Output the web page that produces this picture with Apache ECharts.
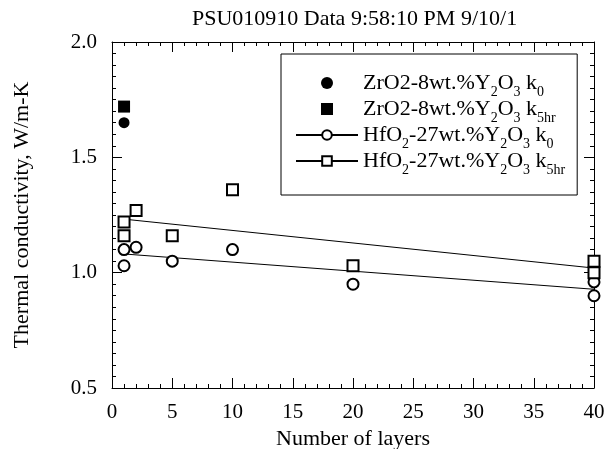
<!DOCTYPE html>
<html>
<head>
<meta charset="utf-8">
<script src="https://cdn.jsdelivr.net/npm/echarts@6/dist/echarts.min.js"></script>
<style>
  html, body { margin: 0; padding: 0; background: #fff; }
  #chart { width: 607px; height: 449px; }
</style>
</head>
<body>
<div id="chart"></div>
<script>
// number of layers for each measured sample
const zrLayers = [1]
const zrK0 = [1.65]
const zrK5hr = [1.72]

const hfLayers = [1, 1, 2, 5, 10, 20, 40, 40]
const hfK0 = [1.10, 1.03, 1.11, 1.05, 1.10, 0.95, 0.96, 0.90]
const hfK5hr = [1.22, 1.16, 1.27, 1.16, 1.36, 1.03, 1.05, 1.00]

// straight fit lines (end points)
const fitLayers = [1, 40]
const fitK0 = [1.081, 0.928]
const fitK5hr = [1.232, 1.020]

const FONT = 'Liberation Serif'

const pairs = (xs, ys) => xs.map((x, i) => [x, ys[i]])

// legend labels with sub-scripts
const legendText = {
  'ZrO2 k0': '{m|ZrO2-8wt.%Y}{s|2}{m|O}{s|3}{m| k}{s|0}',
  'ZrO2 k5hr': '{m|ZrO2-8wt.%Y}{s|2}{m|O}{s|3}{m| k}{s|5hr}',
  'HfO2 k0': '{m|HfO}{s|2}{m|-27wt.%Y}{s|2}{m|O}{s|3}{m| k}{s|0}',
  'HfO2 k5hr': '{m|HfO}{s|2}{m|-27wt.%Y}{s|2}{m|O}{s|3}{m| k}{s|5hr}'
}

const chart = echarts.init(document.getElementById('chart'))

const axisBase = {
  type: 'value',
  axisLine: { show: true, onZero: false, lineStyle: { color: '#000', width: 1 } },
  axisTick: { show: true, inside: true, length: 10, lineStyle: { color: '#000' } },
  minorTick: { show: true, length: 4, lineStyle: { color: '#000' } },
  splitLine: { show: false },
  minorSplitLine: { show: false }
}

const xBase = Object.assign({}, axisBase, { min: 0, max: 40, interval: 5 })
xBase.minorTick = Object.assign({}, axisBase.minorTick, { splitNumber: 5 })
const yBase = Object.assign({}, axisBase, { min: 0.5, max: 2.0, interval: 0.5 })
yBase.minorTick = Object.assign({}, axisBase.minorTick, { splitNumber: 10 })

const option = {
  animation: false,
  backgroundColor: '#fff',
  title: {
    text: 'PSU010910 Data 9:58:10 PM 9/10/1',
    left: 192,
    top: 8,
    padding: 0,
    textStyle: { fontFamily: FONT, fontSize: 22, fontWeight: 'normal', color: '#000' }
  },
  grid: {
    left: 112,
    right: 13,
    top: 42,
    bottom: 61,
    containLabel: false,
    outerBoundsMode: 'none'
  },
  legend: {
    orient: 'vertical',
    left: 281,
    top: 54,
    padding: [18, 12, 18, 14],
    itemGap: -1,
    itemWidth: 62,
    itemHeight: 12,
    borderColor: '#000',
    borderWidth: 1,
    selectedMode: false,
    data: [
      'ZrO2 k0',
      { name: 'ZrO2 k5hr', icon: 'path://M0 0H10V10H0Z' },
      'HfO2 k0',
      'HfO2 k5hr'
    ],
    formatter: name => legendText[name],
    textStyle: {
      fontFamily: FONT,
      fontSize: 22,
      color: '#000',
      rich: {
        m: { fontFamily: FONT, fontSize: 22, lineHeight: 24, color: '#000' },
        // shift sub-scripts down without changing the row height
        s: { fontFamily: FONT, fontSize: 14, padding: [9, 0, -9, 0], color: '#000' }
      }
    }
  },
  xAxis: [
    Object.assign({}, xBase, {
      position: 'bottom',
      name: 'Number of layers',
      nameLocation: 'middle',
      nameGap: 37,
      nameTextStyle: { fontFamily: FONT, fontSize: 22, color: '#000' },
      axisLabel: { fontFamily: FONT, fontSize: 21, color: '#000', margin: 14 }
    }),
    Object.assign({}, xBase, { position: 'top', axisLabel: { show: false } })
  ],
  yAxis: [
    Object.assign({}, yBase, {
      position: 'left',
      name: 'Thermal conductivity, W/m-K',
      nameLocation: 'middle',
      nameGap: 79,
      nameTextStyle: { fontFamily: FONT, fontSize: 22, color: '#000' },
      axisLabel: {
        fontFamily: FONT, fontSize: 21, color: '#000', margin: 15,
        formatter: v => v.toFixed(1)
      }
    }),
    Object.assign({}, yBase, { position: 'right', axisLabel: { show: false } })
  ],
  series: [
    {
      name: 'ZrO2 k0',
      type: 'scatter',
      symbol: 'circle',
      symbolSize: 11,
      itemStyle: { color: '#000', opacity: 1 },
      data: pairs(zrLayers, zrK0),
      z: 4
    },
    {
      name: 'ZrO2 k5hr',
      type: 'scatter',
      symbol: 'rect',
      symbolSize: 12,
      itemStyle: { color: '#000', opacity: 1 },
      data: pairs(zrLayers, zrK5hr),
      z: 4
    },
    // fit lines first so the legend takes its line+marker icon from them
    {
      name: 'HfO2 k0',
      type: 'line',
      symbol: 'emptyCircle',
      symbolSize: 11,
      showSymbol: false,
      lineStyle: { color: '#000', width: 1 },
      itemStyle: { color: '#000' },
      data: pairs(fitLayers, fitK0),
      z: 2
    },
    {
      name: 'HfO2 k5hr',
      type: 'line',
      symbol: 'emptyRect',
      symbolSize: 11,
      showSymbol: false,
      lineStyle: { color: '#000', width: 1 },
      itemStyle: { color: '#000' },
      data: pairs(fitLayers, fitK5hr),
      z: 2
    },
    {
      name: 'HfO2 k0',
      type: 'scatter',
      symbol: 'emptyCircle',
      symbolSize: 11,
      itemStyle: { color: '#000', borderColor: '#000', borderWidth: 1, opacity: 1 },
      data: pairs(hfLayers, hfK0),
      z: 3
    },
    {
      name: 'HfO2 k5hr',
      type: 'scatter',
      symbol: 'emptyRect',
      symbolSize: 11,
      itemStyle: { color: '#000', borderColor: '#000', borderWidth: 1, opacity: 1 },
      data: pairs(hfLayers, hfK5hr),
      z: 4
    }
  ]
}

chart.setOption(option)
</script>
</body>
</html>
